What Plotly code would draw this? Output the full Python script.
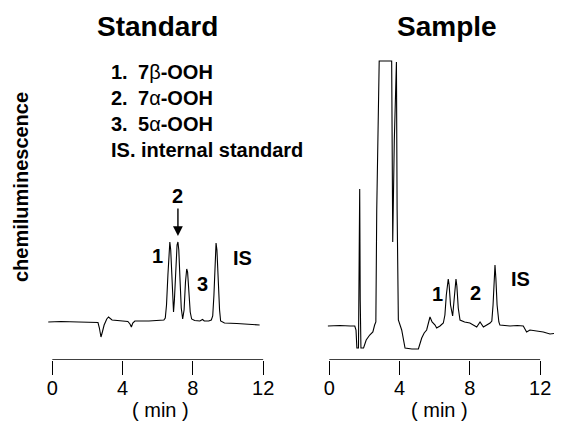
import plotly.graph_objects as go

# ---------------- data (time in min, signal in arbitrary units) ----------------
std_time = [-0.23, 0.5, 1.5, 2.4, 2.6, 2.68, 2.77, 2.85, 2.95, 3.1, 3.2, 3.4, 3.8, 4.3,
            4.42, 4.5, 4.58, 4.7, 5.5, 6.0, 6.35, 6.43, 6.5, 6.58, 6.65, 6.69, 6.74,
            6.8, 6.86, 6.9, 6.95, 7.02, 7.1, 7.15, 7.2, 7.27, 7.34, 7.42, 7.5, 7.58,
            7.65, 7.7, 7.77, 7.85, 7.93, 8.1, 8.4, 8.55, 8.65, 8.9, 9.05, 9.13, 9.2,
            9.27, 9.32, 9.37, 9.44, 9.52, 9.58, 9.8, 10.5, 11.2, 11.8]
std_signal = [38, 38.5, 38, 38, 37.5, 32, 23, 28, 35, 41, 43, 40, 39, 38.5,
              36, 33, 37, 39, 39, 39.5, 40, 42, 55, 85, 112, 118, 110,
              80, 52, 48, 60, 90, 115, 118, 110, 80, 52, 41, 50, 78,
              91, 88, 68, 48, 41, 39.5, 39, 40.5, 39, 39, 40, 44, 65,
              100, 117, 110, 80, 50, 39, 37, 36.5, 35.5, 35]

smp_time = [-0.08, 0.6, 1.2, 1.45, 1.52, 1.57, 1.66, 1.7, 1.73, 1.76, 1.8, 1.95,
            2.1, 2.3, 2.48, 2.58, 2.65, 2.7, 2.84, 3.55, 3.57, 3.61, 3.7, 3.78,
            3.82, 3.86, 3.93, 4.12, 4.2, 4.31, 4.7, 5.07, 5.26, 5.4, 5.54, 5.73,
            5.85, 6.02, 6.11, 6.3, 6.49, 6.58, 6.66, 6.72, 6.77, 6.82, 6.9, 7.02,
            7.1, 7.16, 7.21, 7.26, 7.34, 7.44, 7.7, 8.0, 8.39, 8.58, 8.77, 9.15,
            9.25, 9.32, 9.38, 9.43, 9.48, 9.55, 9.65, 9.71, 10.28, 10.7, 11.04,
            11.15, 11.23, 11.42, 11.8, 12.18, 12.56, 13.03]
smp_signal = [34, 34.5, 34, 34, 30, 12, 12, 171, 171, 60, 12, 12,
              20, 25, 28, 35, 38, 150, 299, 299, 200, 118, 220, 298,
              298, 150, 40, 30, 22, 12, 11, 11, 22, 27, 30, 43,
              38, 35, 32, 34, 37, 45, 65, 78, 81, 75, 55, 44,
              60, 76, 81, 74, 52, 40, 38, 37, 33, 38, 33, 37,
              39, 55, 80, 95, 82, 55, 38, 35, 34, 34.5, 34,
              30, 28, 30, 29, 28, 26, 27]

tick_vals = [0, 4, 8, 12]
tick_text = ["0", "4", "8", "12"]
legend_nums = ["1.", "2.", "3."]
legend_names = ["7<span style='font-weight:normal'>β</span>-OOH",
                "7<span style='font-weight:normal'>α</span>-OOH",
                "5<span style='font-weight:normal'>α</span>-OOH"]

# the page body has an 8px margin, so the figure sits at (8, 8) in the window
OFF = 8
W, H = 562 - OFF, 422 - OFF
FONT = "Liberation Sans, Arial, Helvetica, sans-serif"


def px(x):
    return (x - OFF) / W


def py(y):
    return 1 - (y - OFF) / H


fig = go.Figure()
fig.add_trace(go.Scatter(x=std_time, y=std_signal, mode="lines",
                         line=dict(color="black", width=1.1), xaxis="x", yaxis="y",
                         showlegend=False, hoverinfo="skip"))
fig.add_trace(go.Scatter(x=smp_time, y=smp_signal, mode="lines",
                         line=dict(color="black", width=1.1), xaxis="x2", yaxis="y2",
                         showlegend=False, hoverinfo="skip"))

scale = 17.57  # px per min
xcommon = dict(tickvals=tick_vals, ticktext=tick_text, ticks="outside", ticklen=14,
               tickwidth=1.3, tickcolor="black", showline=False, showgrid=False,
               zeroline=False, tickfont=dict(family=FONT, size=20, color="black"),
               ticklabelstandoff=-4, automargin=False)
ycommon = dict(range=[0, 310], visible=False, showgrid=False, zeroline=False)

fig.update_layout(
    width=W, height=H, margin=dict(l=0, r=0, t=0, b=0),
    paper_bgcolor="white", plot_bgcolor="white",
    xaxis=dict(domain=[px(40), px(275)],
               range=[(40 - 52.3) / scale, (275 - 52.3) / scale], anchor="y", **xcommon),
    yaxis=dict(domain=[py(360), py(50)], anchor="x", **ycommon),
    xaxis2=dict(domain=[px(300), 1],
                range=[(300 - 329.3) / scale, (562 - 329.3) / scale], anchor="y2", **xcommon),
    yaxis2=dict(domain=[py(360), py(50)], anchor="x2", **ycommon),
)

# axis base lines spanning 0..12
for xr, yr in (("x", "y"), ("x2", "y2")):
    fig.add_shape(type="line", xref=xr, yref=yr, x0=0, x1=12, y0=0, y1=0,
                  line=dict(color="black", width=1.3))

ann = []


def text(x, y, s, size, bold=True, xanchor="center"):
    ann.append(dict(x=px(x), y=py(y), xref="paper", yref="paper", text=(f"<b>{s}</b>" if bold else s),
                    showarrow=False, xanchor=xanchor, yanchor="middle",
                    font=dict(family=FONT, size=size, color="black")))


text(157, 27, "Standard", 28)
text(447, 27, "Sample", 28)
for i, (n, nm) in enumerate(zip(legend_nums, legend_names)):
    yy = 72 + i * 26
    text(109, yy, n, 20, xanchor="left")
    text(136, yy, nm, 20, xanchor="left")
text(109, 150, "IS. internal standard", 20, xanchor="left")

# vertical y label
ann.append(dict(x=px(21), y=py(187), xref="paper", yref="paper", text="<b>chemiluminescence</b>",
                showarrow=False, textangle=-90, xanchor="center", yanchor="middle",
                font=dict(family=FONT, size=20, color="black")))

# peak labels standard
text(157, 256, "1", 20)
text(202, 284, "3", 20)
text(242, 258, "IS", 20)
# arrow with "2"
ann.append(dict(x=7.15, y=124, xref="x", yref="y", text="<b>2</b>", showarrow=True,
                ax=0, ay=-40, arrowhead=2, arrowsize=1.4, arrowwidth=1.4,
                arrowcolor="black", standoff=0,
                font=dict(family=FONT, size=20, color="black")))
# peak labels sample
text(437, 294, "1", 20)
text(475, 293, "2", 20)
text(520, 279, "IS", 20)

# x titles
text(160, 410, "( min )", 20, bold=False)
text(439, 410, "( min )", 20, bold=False)

fig.update_layout(annotations=ann)
fig.write_html("out.html")
